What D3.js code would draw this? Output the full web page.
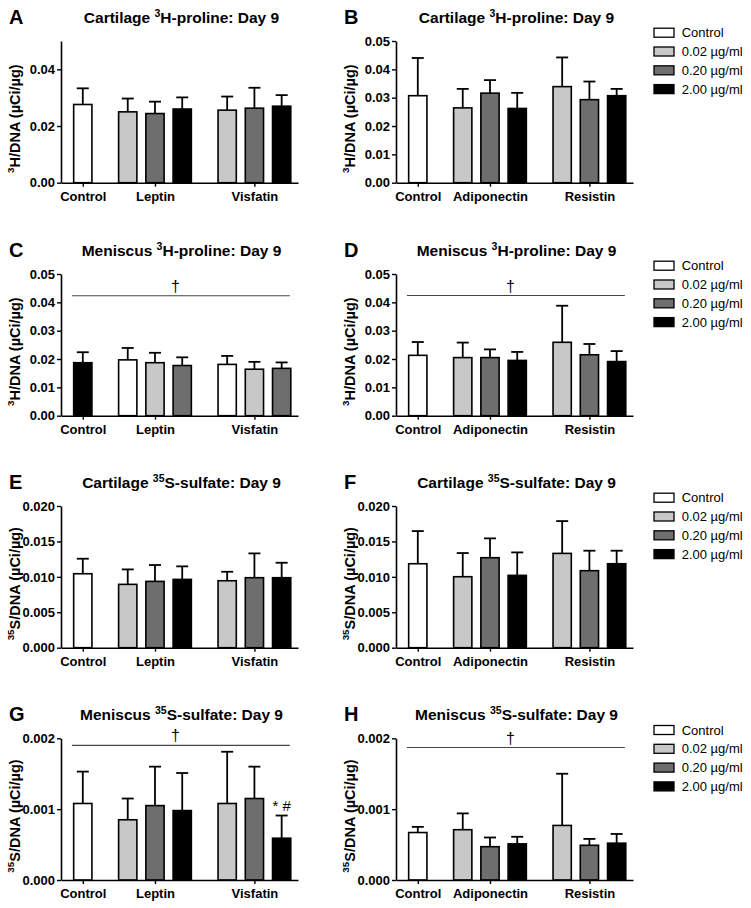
<!DOCTYPE html>
<html><head><meta charset="utf-8">
<script src="https://cdn.jsdelivr.net/npm/d3@7"></script>
<style>
body{margin:0;background:#fff;}
svg{display:block;}
text{font-family:"Liberation Sans",Arial,Helvetica,sans-serif;fill:#000;}
</style>
</head><body>
<svg id="chart" width="751" height="908"></svg>
<script>
// ---------------- DATA ----------------
const seriesNames = ["Control", "0.02 µg/ml", "0.20 µg/ml", "2.00 µg/ml"];
const seriesColors = ["#ffffff", "#c8c8c8", "#6e6e6e", "#000000"];
const groupsLeft = ["Control", "Leptin", "Visfatin"];
const groupsRight = ["Control", "Adiponectin", "Resistin"];
const groupSizes = [1, 3, 3];
const seriesStandard = [0, 1, 2, 3, 1, 2, 3];
const seriesPanelC = [3, 0, 1, 2, 0, 1, 2];

const meansA = [0.0276, 0.0250, 0.0244, 0.0260, 0.0256, 0.0263, 0.0270];
const errA   = [0.0057, 0.0047, 0.0042, 0.0041, 0.0048, 0.0072, 0.0039];
const meansB = [0.0307, 0.0264, 0.0316, 0.0262, 0.0339, 0.0293, 0.0307];
const errB   = [0.0133, 0.0067, 0.0046, 0.0055, 0.0103, 0.0064, 0.0024];
const meansC = [0.0187, 0.0197, 0.0187, 0.0177, 0.0181, 0.0164, 0.0167];
const errC   = [0.0037, 0.0042, 0.0035, 0.0029, 0.0030, 0.0026, 0.0021];
const meansD = [0.0213, 0.0205, 0.0205, 0.0195, 0.0259, 0.0215, 0.0191];
const errD   = [0.0047, 0.0053, 0.0029, 0.0030, 0.0129, 0.0038, 0.0037];
const meansE = [0.01044, 0.00894, 0.00936, 0.00964, 0.00945, 0.00988, 0.00988];
const errE   = [0.00212, 0.00211, 0.00231, 0.00184, 0.00127, 0.00343, 0.00211];
const meansF = [0.01185, 0.01002, 0.01270, 0.01021, 0.01331, 0.01087, 0.01185];
const errF   = [0.00461, 0.00334, 0.00273, 0.00324, 0.00456, 0.00282, 0.00184];
const meansG = [0.00108, 0.00085, 0.00105, 0.00098, 0.00108, 0.00115, 0.00059];
const errG   = [0.00045, 0.00030, 0.00055, 0.00053, 0.00073, 0.00045, 0.00032];
const meansH = [0.00067, 0.00071, 0.00047, 0.00051, 0.00077, 0.00049, 0.00052];
const errH   = [0.00008, 0.00023, 0.00013, 0.00010, 0.00073, 0.00009, 0.00013];

const ticksA = [0, 0.02, 0.04];
const ticksProline = [0, 0.01, 0.02, 0.03, 0.04, 0.05];
const ticksCartSulfate = [0, 0.005, 0.010, 0.015, 0.020];
const ticksMenSulfate = [0, 0.001, 0.002];

const sigC = 0.0423, sigD = 0.0424, sigG = 0.00190, sigH = 0.00187;
const annotG = "* #";

// ---------------- LAYOUT ----------------
const svg = d3.select("#chart");
const FONT = '"Liberation Sans",Arial,Helvetica,sans-serif';
const colX = [61, 396];
const rowBase = [182.7, 415.7, 647.7, 880];
const plotH = 141.7;
const plotW = 237;
const barW = 0.67;
const groupGap = 0.65;

function slotPositions() {
  const pos = []; let off = 0;
  groupSizes.forEach((n, g) => {
    for (let m = 0; m < n; m++) pos.push(off + m);
    off += n + groupGap;
  });
  return pos;
}
function groupCenters() {
  const c = []; let off = 0;
  groupSizes.forEach(n => { c.push(off + (n - 1) / 2); off += n + groupGap; });
  return c;
}
const slots = slotPositions();
const centers = groupCenters();

const panels = [
  {letter:"A", title:["Cartilage ","3","H-proline: Day 9"], ytitle:["3","H/DNA (µCi/µg)"], groups:groupsLeft, means:meansA, errs:errA, ser:seriesStandard, max:0.05, ticks:ticksA, fmt:d3.format(".2f"), col:0, row:0},
  {letter:"B", title:["Cartilage ","3","H-proline: Day 9"], ytitle:["3","H/DNA (µCi/µg)"], groups:groupsRight, means:meansB, errs:errB, ser:seriesStandard, max:0.05, ticks:ticksProline, fmt:d3.format(".2f"), col:1, row:0, legend:true},
  {letter:"C", title:["Meniscus ","3","H-proline: Day 9"], ytitle:["3","H/DNA (µCi/µg)"], groups:groupsLeft, means:meansC, errs:errC, ser:seriesPanelC, max:0.05, ticks:ticksProline, fmt:d3.format(".2f"), col:0, row:1, sig:sigC},
  {letter:"D", title:["Meniscus ","3","H-proline: Day 9"], ytitle:["3","H/DNA (µCi/µg)"], groups:groupsRight, means:meansD, errs:errD, ser:seriesStandard, max:0.05, ticks:ticksProline, fmt:d3.format(".2f"), col:1, row:1, sig:sigD, legend:true},
  {letter:"E", title:["Cartilage ","35","S-sulfate: Day 9"], ytitle:["35","S/DNA (µCi/µg)"], groups:groupsLeft, means:meansE, errs:errE, ser:seriesStandard, max:0.02, ticks:ticksCartSulfate, fmt:d3.format(".3f"), col:0, row:2},
  {letter:"F", title:["Cartilage ","35","S-sulfate: Day 9"], ytitle:["35","S/DNA (µCi/µg)"], groups:groupsRight, means:meansF, errs:errF, ser:seriesStandard, max:0.02, ticks:ticksCartSulfate, fmt:d3.format(".3f"), col:1, row:2, legend:true},
  {letter:"G", title:["Meniscus ","35","S-sulfate: Day 9"], ytitle:["35","S/DNA (µCi/µg)"], groups:groupsLeft, means:meansG, errs:errG, ser:seriesStandard, max:0.002, ticks:ticksMenSulfate, fmt:d3.format(".3f"), col:0, row:3, sig:sigG, annot:{index:6, text:annotG}},
  {letter:"H", title:["Meniscus ","35","S-sulfate: Day 9"], ytitle:["35","S/DNA (µCi/µg)"], groups:groupsRight, means:meansH, errs:errH, ser:seriesStandard, max:0.002, ticks:ticksMenSulfate, fmt:d3.format(".3f"), col:1, row:3, sig:sigH, legend:true}
];

function richText(sel, parts, supIdx) {
  parts.forEach((p, i) => {
    const t = sel.append("tspan").text(p);
    if (i === supIdx) {
      t.attr("font-size", "0.68em").attr("dy", "-0.55em");
    } else if (i === supIdx + 1) {
      t.attr("dy", "0.37em");
    }
  });
}

panels.forEach(p => {
  const ax = colX[p.col];
  const base = rowBase[p.row];
  const g = svg.append("g");
  const x = d3.scaleLinear().domain([-0.8, 7.9]).range([ax, ax + plotW]);
  const y = d3.scaleLinear().domain([0, p.max]).range([base, base - plotH]);
  const bw = x(barW) - x(0);

  // panel letter
  g.append("text").attr("x", ax - 52).attr("y", base - 159)
    .attr("font-size", 20).attr("font-weight", "bold").text(p.letter);

  // title
  const tt = g.append("text").attr("x", ax + plotW / 2 + 2).attr("y", base - 160)
    .attr("text-anchor", "middle").attr("font-size", 15.5).attr("font-weight", "bold");
  richText(tt, p.title, 1);

  // y axis title
  const yt = g.append("text")
    .attr("transform", `translate(${ax - 45.5},${base - 64}) rotate(-90)`)
    .attr("text-anchor", "middle").attr("dominant-baseline", "central")
    .attr("font-size", 14.5).attr("font-weight", "bold");
  richText(yt, p.ytitle, 0);

  // bars
  const data = p.means.map((m, i) => ({m, e: p.errs[i], pos: slots[i], s: p.ser[i], i}));
  g.selectAll("rect.bar").data(data).enter().append("rect")
    .attr("class", "bar")
    .attr("x", d => x(d.pos) - bw / 2)
    .attr("y", d => y(d.m))
    .attr("width", bw)
    .attr("height", d => y(0) - y(d.m))
    .attr("fill", d => seriesColors[d.s])
    .attr("stroke", "#000").attr("stroke-width", 1.6);

  // error bars
  const eb = g.selectAll("g.eb").data(data).enter().append("g").attr("class", "eb");
  eb.append("line").attr("x1", d => x(d.pos)).attr("x2", d => x(d.pos))
    .attr("y1", d => y(d.m)).attr("y2", d => y(d.m + d.e))
    .attr("stroke", "#000").attr("stroke-width", 1.8);
  eb.append("line").attr("x1", d => x(d.pos) - 6).attr("x2", d => x(d.pos) + 6)
    .attr("y1", d => y(d.m + d.e)).attr("y2", d => y(d.m + d.e))
    .attr("stroke", "#000").attr("stroke-width", 1.8);

  // y axis
  const yAxis = g.append("g").attr("transform", `translate(${ax},0)`)
    .call(d3.axisLeft(y).tickValues(p.ticks).tickFormat(p.fmt).tickSize(4).tickSizeOuter(0).tickPadding(2));
  yAxis.select(".domain").attr("stroke-width", 1.6);
  yAxis.selectAll(".tick line").attr("stroke-width", 1.4);
  yAxis.selectAll(".tick text").attr("font-size", 13).attr("font-weight", "bold")
    .attr("font-family", FONT).attr("fill", "#000");

  // x axis
  const xAxis = g.append("g").attr("transform", `translate(0,${base})`)
    .call(d3.axisBottom(x).tickValues(centers).tickFormat((d, i) => p.groups[i]).tickSize(4).tickSizeOuter(0).tickPadding(5));
  xAxis.select(".domain").attr("stroke-width", 1.6);
  xAxis.selectAll(".tick line").attr("stroke-width", 1.4);
  xAxis.selectAll(".tick text").attr("font-size", 13).attr("font-weight", "bold")
    .attr("font-family", FONT).attr("fill", "#000");

  // significance line
  if (p.sig !== undefined) {
    g.append("line").attr("x1", x(-0.4)).attr("x2", x(7.6))
      .attr("y1", y(p.sig)).attr("y2", y(p.sig))
      .attr("stroke", "#444").attr("stroke-width", 1.1);
    g.append("text").attr("x", x(3.4)).attr("y", y(p.sig) - 4)
      .attr("text-anchor", "middle").attr("font-size", 16).text("†");
  }

  // annotation
  if (p.annot) {
    const d = data[p.annot.index];
    g.append("text").attr("x", x(d.pos)).attr("y", y(d.m + d.e) - 5)
      .attr("text-anchor", "middle").attr("font-size", 15).text(p.annot.text);
  }

  // legend
  if (p.legend) {
    const lg = g.append("g").attr("transform", `translate(${ax + 258},${base - 150})`);
    seriesNames.forEach((n, i) => {
      lg.append("rect").attr("x", 0).attr("y", i * 18.8 - 4.5).attr("width", 20).attr("height", 9)
        .attr("fill", seriesColors[i]).attr("stroke", "#000").attr("stroke-width", 1.3);
      lg.append("text").attr("x", 27.7).attr("y", i * 18.8).attr("dominant-baseline", "central")
        .attr("font-size", 13).text(n);
    });
  }
});
</script>
</body></html>
